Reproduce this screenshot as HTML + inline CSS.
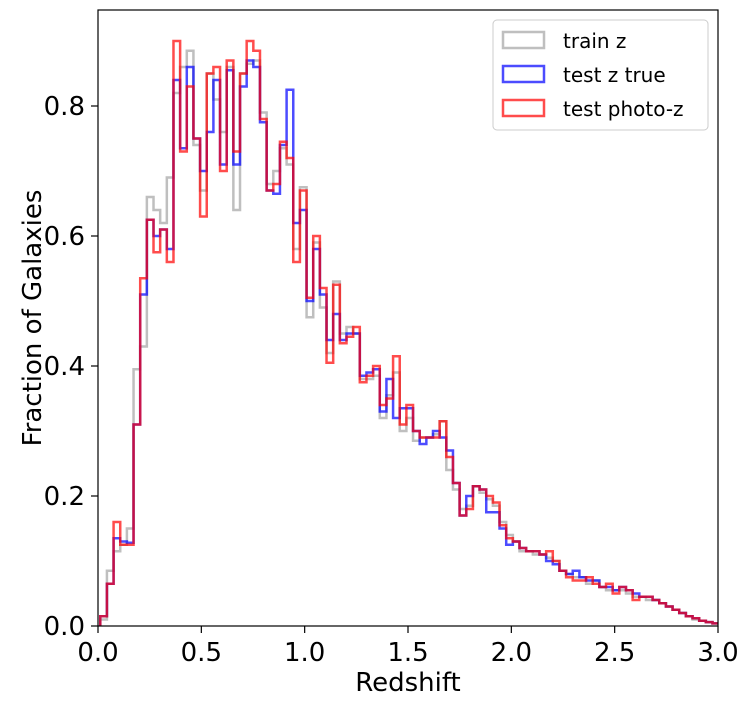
<!DOCTYPE html>
<html><head><meta charset="utf-8"><style>
body{margin:0;background:#fff;}
svg{display:block;font-family:"DejaVu Sans","Liberation Sans",sans-serif;}
</style></head><body>
<svg id="chart" width="749" height="707">
<rect x="98" y="10" width="620" height="616" fill="#fff"/>
<clipPath id="clip"><rect x="98" y="10" width="620" height="616"/></clipPath>
<g id="series" clip-path="url(#clip)"></g>
<rect x="98" y="10" width="620" height="616" fill="none" stroke="#000" stroke-width="1.2"/>
<g id="xticks"></g><g id="yticks"></g>
<text x="408" y="691" font-size="26" text-anchor="middle">Redshift</text>
<text transform="translate(41,318) rotate(-90)" font-size="26" text-anchor="middle">Fraction of Galaxies</text>
<g>
<rect x="493" y="20" width="215" height="110" rx="4" fill="#fff" fill-opacity="0.8" stroke="#ccc"/>
<g><rect x="503" y="32" width="41" height="16" fill="none" stroke="#aaa" stroke-opacity="0.75" stroke-width="2.5"/><text x="563" y="48" font-size="20">train z</text></g>
<g><rect x="503" y="66" width="41" height="16" fill="none" stroke="#0000ff" stroke-opacity="0.7" stroke-width="2.5"/><text x="563" y="82" font-size="20">test z true</text></g>
<g><rect x="503" y="100" width="41" height="16" fill="none" stroke="#ff0000" stroke-opacity="0.7" stroke-width="2.5"/><text x="563" y="116" font-size="20">test photo-z</text></g>
</g>
</svg>
<script>
const binStart = 0.011;
const binWidth = 0.0322;
const trainZ = [0.01,0.085,0.115,0.125,0.15,0.395,0.43,0.66,0.64,0.62,0.69,0.82,0.86,0.885,0.74,0.67,0.85,0.81,0.76,0.86,0.64,0.85,0.865,0.87,0.79,0.68,0.70,0.735,0.71,0.58,0.675,0.475,0.59,0.49,0.42,0.53,0.45,0.46,0.45,0.38,0.38,0.385,0.32,0.355,0.39,0.30,0.32,0.285,0.29,0.29,0.295,0.315,0.24,0.21,0.18,0.185,0.215,0.205,0.195,0.185,0.16,0.14,0.13,0.115,0.115,0.11,0.11,0.105,0.10,0.085,0.08,0.075,0.075,0.065,0.07,0.06,0.055,0.055,0.055,0.05,0.045,0.045,0.04,0.04,0.035,0.03,0.025,0.02,0.015,0.01,0.008,0.006,0.004];
const testTrue = [0.015,0.065,0.135,0.13,0.128,0.31,0.51,0.625,0.60,0.61,0.58,0.84,0.735,0.86,0.75,0.70,0.76,0.84,0.71,0.855,0.71,0.83,0.87,0.86,0.775,0.67,0.665,0.74,0.825,0.62,0.64,0.50,0.58,0.51,0.44,0.48,0.44,0.45,0.45,0.385,0.39,0.395,0.33,0.38,0.32,0.335,0.335,0.30,0.28,0.29,0.30,0.29,0.27,0.22,0.17,0.20,0.215,0.21,0.175,0.175,0.15,0.125,0.13,0.12,0.115,0.115,0.11,0.10,0.095,0.085,0.08,0.085,0.075,0.07,0.07,0.06,0.06,0.055,0.06,0.055,0.05,0.045,0.045,0.04,0.035,0.03,0.025,0.02,0.015,0.012,0.008,0.006,0.004];
const testPhoto = [0.015,0.065,0.16,0.125,0.125,0.31,0.535,0.625,0.575,0.61,0.56,0.90,0.73,0.83,0.75,0.63,0.85,0.86,0.70,0.87,0.73,0.85,0.90,0.885,0.78,0.67,0.68,0.745,0.72,0.56,0.67,0.505,0.60,0.52,0.405,0.525,0.435,0.445,0.46,0.375,0.385,0.40,0.34,0.35,0.415,0.31,0.34,0.30,0.29,0.29,0.29,0.315,0.26,0.22,0.17,0.18,0.215,0.21,0.20,0.19,0.155,0.135,0.13,0.12,0.115,0.115,0.11,0.115,0.10,0.085,0.075,0.07,0.07,0.075,0.065,0.06,0.065,0.05,0.06,0.055,0.04,0.045,0.045,0.04,0.035,0.03,0.025,0.02,0.015,0.012,0.008,0.006,0.004];
const xTickVals = [0,0.5,1.0,1.5,2.0,2.5,3.0];
const xTickLabels = ["0.0","0.5","1.0","1.5","2.0","2.5","3.0"];
const yTickVals = [0,0.2,0.4,0.6,0.8];
const yTickLabels = ["0.0","0.2","0.4","0.6","0.8"];

const NS="http://www.w3.org/2000/svg";
const xs = v => 98 + v*(620/3);
const ys = v => 626 - v*650;

function stepPath(vals){
  let d = "M"+xs(binStart)+","+ys(0);
  vals.forEach((v,i)=>{
    const x0=xs(binStart+i*binWidth), x1=xs(binStart+(i+1)*binWidth);
    d+=" L"+x0+","+ys(v)+" L"+x1+","+ys(v);
  });
  d+=" L"+xs(binStart+vals.length*binWidth)+","+ys(0);
  return d;
}
const g=document.getElementById('series');
const p1=document.createElementNS(NS,'path');
p1.setAttribute('d',stepPath(trainZ));p1.setAttribute('fill','none');p1.setAttribute('stroke','#aaa');p1.setAttribute('stroke-opacity','0.75');p1.setAttribute('stroke-width','2.5');


g.appendChild(p1);
const p2=document.createElementNS(NS,'path');
p2.setAttribute('d',stepPath(testTrue));p2.setAttribute('fill','none');p2.setAttribute('stroke','#0000ff');p2.setAttribute('stroke-opacity','0.7');p2.setAttribute('stroke-width','2.5');


g.appendChild(p2);
const p3=document.createElementNS(NS,'path');
p3.setAttribute('d',stepPath(testPhoto));p3.setAttribute('fill','none');p3.setAttribute('stroke','#ff0000');p3.setAttribute('stroke-opacity','0.7');p3.setAttribute('stroke-width','2.5');


g.appendChild(p3);

const xg=document.getElementById('xticks');
xTickVals.forEach((v,i)=>{
  const l=document.createElementNS(NS,'line');
  l.setAttribute('x1',xs(v));l.setAttribute('x2',xs(v));l.setAttribute('y1',626);l.setAttribute('y2',633);l.setAttribute('stroke','#000');l.setAttribute('stroke-width','1.2');
  
  
  xg.appendChild(l);
  const t=document.createElementNS(NS,'text');
  t.setAttribute('x',xs(v));t.setAttribute('y',661);t.setAttribute('font-size','26');t.setAttribute('text-anchor','middle');
  t.textContent=xTickLabels[i];
  
  
  xg.appendChild(t);
});
const yg=document.getElementById('yticks');
yTickVals.forEach((v,i)=>{
  const l=document.createElementNS(NS,'line');
  l.setAttribute('x1',91);l.setAttribute('x2',98);l.setAttribute('y1',ys(v));l.setAttribute('y2',ys(v));l.setAttribute('stroke','#000');l.setAttribute('stroke-width','1.2');
  
  
  yg.appendChild(l);
  const t=document.createElementNS(NS,'text');
  t.setAttribute('x',85);t.setAttribute('y',ys(v)+9);t.setAttribute('font-size','26');t.setAttribute('text-anchor','end');
  t.textContent=yTickLabels[i];
  
  
  yg.appendChild(t);
});
</script>
</body></html>
